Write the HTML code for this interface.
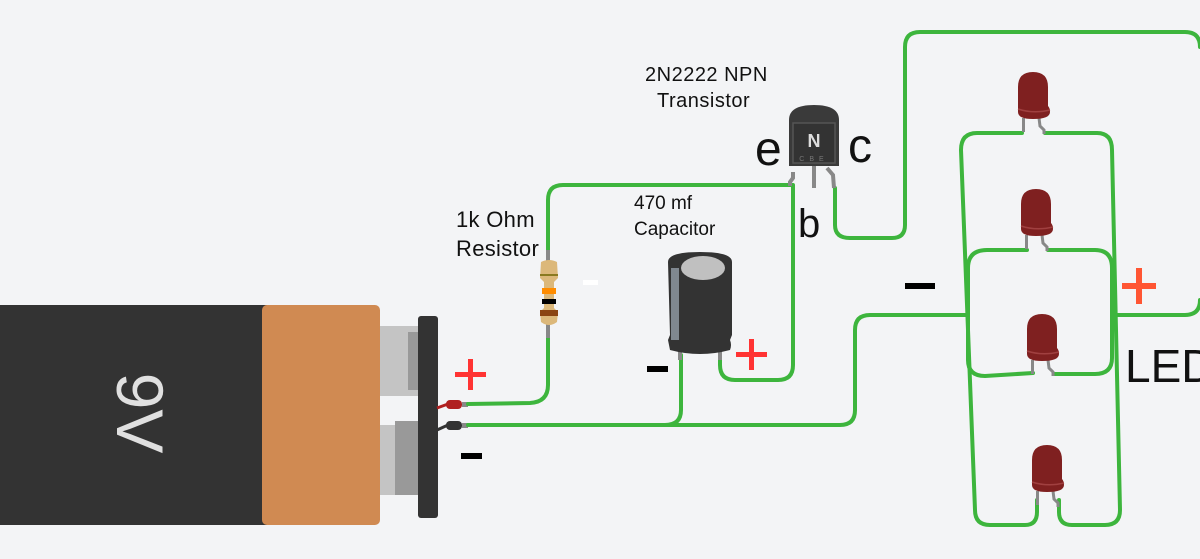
<!DOCTYPE html>
<html><head><style>
html,body{margin:0;padding:0;background:#f3f4f6;}
svg{display:block;font-family:"Liberation Sans",sans-serif;}
</style></head><body>
<svg width="1200" height="559" viewBox="0 0 1200 559" xmlns="http://www.w3.org/2000/svg">
<rect width="1200" height="559" fill="#f3f4f6"/>
<!-- battery -->
<rect x="0" y="305" width="268" height="220" fill="#333"/>
<rect x="262" y="305" width="118" height="220" rx="5" fill="#d08a52"/>
<rect x="380" y="326" width="40" height="70" fill="#c4c4c4"/>
<rect x="408" y="332" width="12" height="58" fill="#999"/>
<rect x="380" y="425" width="20" height="70" fill="#c4c4c4"/>
<rect x="395" y="421" width="25" height="74" fill="#999"/>
<rect x="418" y="316" width="20" height="202" rx="3" fill="#333"/>
<text x="0" y="0" transform="translate(117,413) rotate(90)" font-size="66" fill="#e0e0e0" text-anchor="middle">9V</text>
<!-- leads -->
<path d="M437 408 L448 404" stroke="#b02020" stroke-width="3"/>
<rect x="446" y="400" width="16" height="9" rx="4" fill="#b02020"/>
<rect x="462" y="402" width="6" height="5" fill="#888"/>
<path d="M437 430 L448 425" stroke="#333" stroke-width="3"/>
<rect x="446" y="421" width="16" height="9" rx="4" fill="#333"/>
<rect x="462" y="423" width="6" height="5" fill="#888"/>
<!-- wires -->
<g fill="none" stroke="#3db53d" stroke-width="4" stroke-linecap="round" stroke-linejoin="round">
<path d="M468 404 L530 403 Q548 402 548 385 L548 338"/>
<path d="M548 258 L548 200 Q548 185 563 185 L792 185"/>
<path d="M793 185 L793 365 Q793 380 778 380 L735 380 Q720 380 720 365 L720 356"/>
<path d="M468 425 L840 425 Q855 425 855 410 L855 330 Q855 315 870 315 L967 315"/>
<path d="M681 355 L681 410 Q681 425 665 425"/>
<path d="M835 188 L835 225 Q835 238 850 238 L892 238 Q905 238 905 225 L905 47 Q905 32 920 32 L1185 32 Q1200 32 1200 47"/>
<path d="M1200 300 Q1200 315 1185 315 L1114 315"/>
<path d="M1022 133 L977 133 Q961 133 961 150 L975 510 Q975 525 990 525 L1025 525 Q1037 525 1037 512 L1037 500"/>
<path d="M1045 133 L1097 133 Q1112 133 1112 150 L1120 510 Q1120 525 1105 525 L1072 525 Q1059 525 1059 512 L1059 500"/>
<path d="M1027 250 L987 250 Q968 250 968 268 L968 360 Q968 376 985 376 L1033 373"/>
<path d="M1048 250 L1095 250 Q1112 250 1112 268 L1112 358 Q1112 374 1095 374 L1054 374"/>
</g>
<!-- resistor -->
<rect x="546" y="250" width="4" height="14" fill="#888"/>
<rect x="546" y="322" width="4" height="16" fill="#888"/>
<path d="M541 262 Q549 258 557 262 L558 278 L554 282 L554 308 L558 312 L557 322 Q549 328 541 322 L540 312 L544 308 L544 282 L540 278 Z" fill="#dcb87a"/>
<rect x="540" y="274" width="18" height="2" fill="#8a7a20"/>
<rect x="542" y="288" width="14" height="6" fill="#ff8c00"/>
<rect x="542" y="299" width="14" height="5" fill="#000"/>
<rect x="540" y="310" width="18" height="6" fill="#8b4513"/>
<rect x="583" y="280" width="15" height="5" fill="#fff"/>
<!-- capacitor -->
<rect x="678" y="350" width="4" height="10" fill="#888"/>
<rect x="718" y="350" width="4" height="10" fill="#888"/>
<path d="M668 262 Q668 252 700 252 Q732 252 732 262 L732 335 L730 340 Q732 345 730 350 Q700 358 670 350 L668 340 L670 335 Z" fill="#333"/>
<rect x="671" y="268" width="8" height="72" fill="#808890"/>
<ellipse cx="703" cy="268" rx="22" ry="12" fill="#c0c0c0"/>
<!-- transistor -->
<path d="M793 172 L793 178 L790 182 L790 186" stroke="#888" stroke-width="4" fill="none"/>
<rect x="812" y="166" width="4" height="22" fill="#888"/>
<path d="M827 168 L833 175 L834 188" stroke="#888" stroke-width="4" fill="none"/>
<path d="M789 120 Q789 105 814 105 Q839 105 839 120 L839 166 L789 166 Z" fill="#3a3a3a"/>
<rect x="793" y="123" width="42" height="40" fill="#333" stroke="#555" stroke-width="1.5"/>
<text x="814" y="147" font-size="18" fill="#ddd" text-anchor="middle" font-weight="bold">N</text>
<text x="814" y="161" font-size="7" fill="#777" text-anchor="middle" letter-spacing="5">CBE</text>
<!-- LEDs -->
<g>
<g transform="translate(1018,72)"><rect x="4" y="46" width="3" height="14" fill="#888"/><path d="M21 46 L22 54 L26 58 L26 62" stroke="#888" stroke-width="3" fill="none"/><path d="M0 15 Q0 0 15 0 Q30 0 30 15 L30 34 Q32 36 32 40 Q32 47 15 47 Q0 47 0 40 Z" fill="#7f2020"/><path d="M0 37 Q15 42 32 38" stroke="#a04040" stroke-width="1.5" fill="none"/></g>
<g transform="translate(1021,189)"><rect x="4" y="46" width="3" height="14" fill="#888"/><path d="M21 46 L22 54 L26 58 L26 62" stroke="#888" stroke-width="3" fill="none"/><path d="M0 15 Q0 0 15 0 Q30 0 30 15 L30 34 Q32 36 32 40 Q32 47 15 47 Q0 47 0 40 Z" fill="#7f2020"/><path d="M0 37 Q15 42 32 38" stroke="#a04040" stroke-width="1.5" fill="none"/></g>
<g transform="translate(1027,314)"><rect x="4" y="46" width="3" height="14" fill="#888"/><path d="M21 46 L22 54 L26 58 L26 62" stroke="#888" stroke-width="3" fill="none"/><path d="M0 15 Q0 0 15 0 Q30 0 30 15 L30 34 Q32 36 32 40 Q32 47 15 47 Q0 47 0 40 Z" fill="#7f2020"/><path d="M0 37 Q15 42 32 38" stroke="#a04040" stroke-width="1.5" fill="none"/></g>
<g transform="translate(1032,445)"><rect x="4" y="46" width="3" height="14" fill="#888"/><path d="M21 46 L22 54 L26 58 L26 62" stroke="#888" stroke-width="3" fill="none"/><path d="M0 15 Q0 0 15 0 Q30 0 30 15 L30 34 Q32 36 32 40 Q32 47 15 47 Q0 47 0 40 Z" fill="#7f2020"/><path d="M0 37 Q15 42 32 38" stroke="#a04040" stroke-width="1.5" fill="none"/></g>
</g>
<!-- text -->
<g fill="#111">
<text x="645" y="81" font-size="20" letter-spacing="0.5">2N2222 NPN</text>
<text x="657" y="107" font-size="20" letter-spacing="0.5">Transistor</text>
<text x="456" y="227" font-size="22" letter-spacing="0.3">1k Ohm</text>
<text x="456" y="256" font-size="22" letter-spacing="0.3">Resistor</text>
<text x="634" y="209" font-size="19">470 mf</text>
<text x="634" y="235" font-size="19">Capacitor</text>
<text x="755" y="165" font-size="48">e</text>
<text x="848" y="162" font-size="48">c</text>
<text x="798" y="237" font-size="40">b</text>
<text x="1125" y="382" font-size="46">LED</text>
</g>
<rect x="905" y="283" width="30" height="6" fill="#000"/>
<rect x="647" y="366" width="21" height="6" fill="#000"/>
<rect x="461" y="453" width="21" height="6" fill="#000"/>
<g fill="#ff3333">
<rect x="455" y="372" width="31" height="5"/><rect x="468" y="359" width="5" height="31"/>
<rect x="736" y="352" width="31" height="5"/><rect x="749" y="339" width="5" height="31"/>
</g>
<g fill="#ff5533">
<rect x="1122" y="283" width="34" height="6"/><rect x="1136" y="268" width="6" height="36"/>
</g>
</svg>
</body></html>
